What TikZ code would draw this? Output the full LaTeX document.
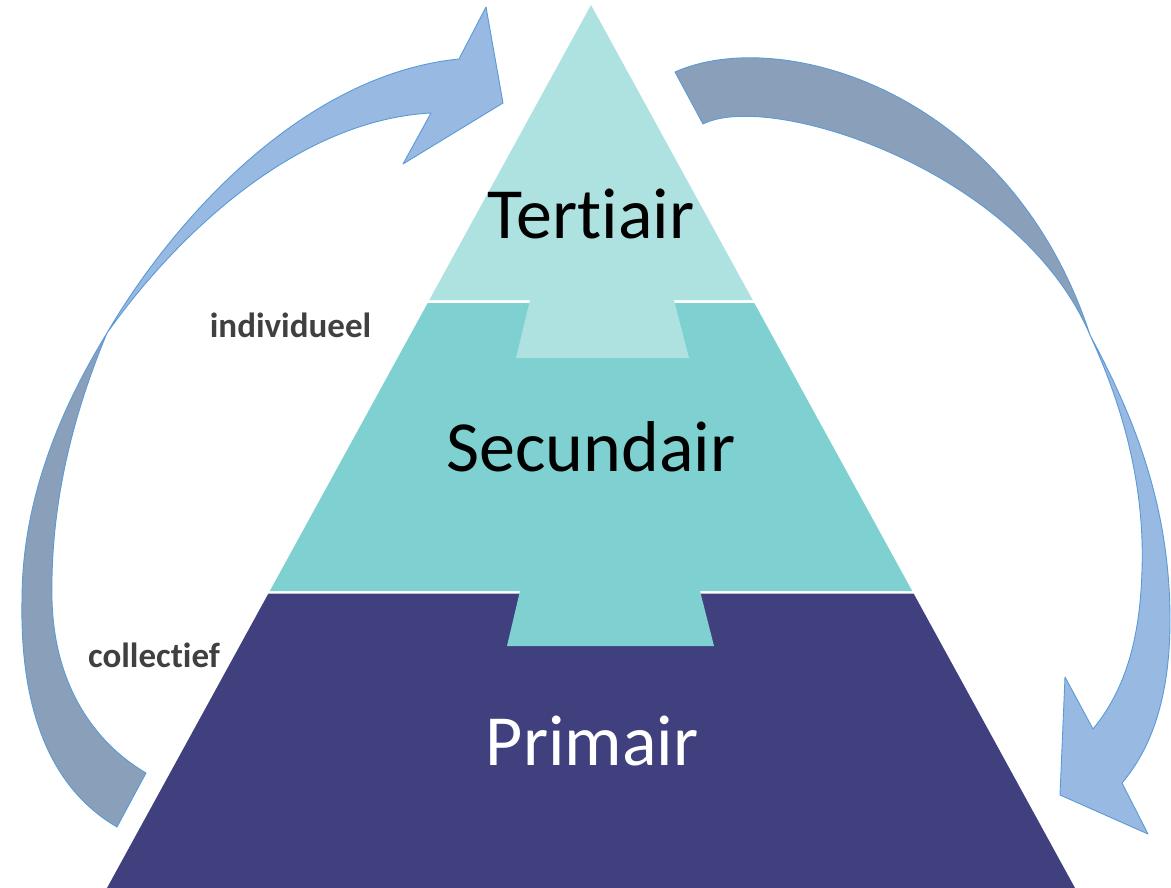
\documentclass[tikz,border=0pt]{standalone}
\usepackage{fontspec}
\setmainfont{Carlito}[Ligatures=NoCommon]
\definecolor{tertc}{HTML}{AEE2E0}
\definecolor{secuc}{HTML}{7ED1D0}
\definecolor{primc}{HTML}{3F407D}
\definecolor{arrlight}{HTML}{97B9E2}
\definecolor{arrdark}{HTML}{8AA0BA}
\definecolor{arredge}{HTML}{5B9BD5}
\definecolor{lblc}{HTML}{404040}
\begin{document}
\begin{tikzpicture}[x=1pt,y=-1pt,
  arrowpart/.style={draw=arredge, line width=0.9pt, line join=round},
  big/.style={font=\fontsize{72}{86}\selectfont, anchor=base, inner sep=0pt},
  lab/.style={font=\bfseries\fontsize{35}{42}\selectfont, text=lblc, anchor=base, inner sep=0pt}]
\useasboundingbox (0,0) rectangle (1171,888);
% pyramid
\fill[primc] (107,888) -- (268.4,593.5) -- (913.6,593.5) -- (1075,888) -- cycle;
\fill[secuc] (427.7,303) -- (754.3,303) -- (912.2,591) -- (700,591) -- (714,646)
  -- (507,646) -- (520,591) -- (269.8,591) -- cycle;
\fill[tertc] (591,5) -- (752.7,300) -- (674,300) -- (689,358) -- (516,358)
  -- (530,300) -- (429.3,300) -- cycle;
% left arrow
\path[arrowpart, fill=arrdark] (107,333) .. controls (60,410) and (22,500) .. (22,600)
  .. controls (20,700) and (45,785) .. (117,827) -- (146,773)
  .. controls (90,740) and (54,680) .. (52,600)
  .. controls (50,500) and (75,410) .. (107,333) -- cycle;
\path[arrowpart, fill=arrlight] (107,333) .. controls (170,225) and (300,75) .. (459,59)
  -- (486,7) -- (503,103) -- (403,164) -- (431,113)
  .. controls (300,120) and (180,230) .. (107,333) -- cycle;
% right arrow
\path[arrowpart, fill=arrdark] (675,72) .. controls (780,25) and (1010,90) .. (1090,335)
  .. controls (1020,170) and (770,90) .. (703,124) -- cycle;
\path[arrowpart, fill=arrlight] (1090,335) .. controls (1130,410) and (1170,500) .. (1170,620)
  .. controls (1170,700) and (1150,750) .. (1122,783) -- (1148,834) -- (1060,795)
  -- (1065,677) -- (1093,729)
  .. controls (1125,690) and (1140,640) .. (1142,570)
  .. controls (1145,480) and (1120,400) .. (1090,335) -- cycle;
% texts
\node[big] (ntert) at (591,239) {Tertiair};
\node[big] (nsecu) at (591,471) {Secundair};
\node[big, text=white] (nprim) at (592,765) {Primair};
\node[lab] (nind) at (290.5,337) {individueel};
\node[lab] (ncol) at (154,667) {collectief};
\end{tikzpicture}
\end{document}
